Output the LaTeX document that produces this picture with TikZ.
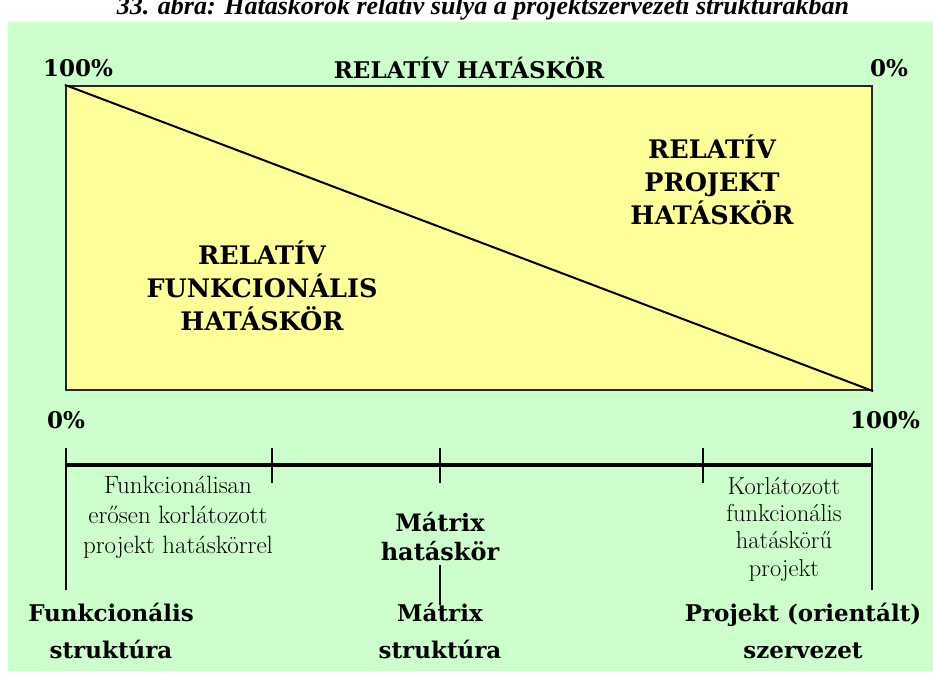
\documentclass[tikz,border=0pt]{standalone}
\usepackage{fontspec}
\usepackage{xcolor}
\usepackage{tikz}
\usetikzlibrary{positioning}

\newfontfamily\hdfont{DejaVu Serif}
\newfontfamily\ttlfont{Liberation Serif}
\definecolor{bggreen}{HTML}{CCFFCC}
\definecolor{boxyellow}{HTML}{FFFF99}

\begin{document}
\begin{tikzpicture}[x=1pt, y=-1pt,
  hd/.style={font=\hdfont\bfseries\fontsize{23}{37}\selectfont, align=center, inner sep=0pt},
  inlab/.style={font=\hdfont\bfseries\fontsize{25.5}{33}\selectfont, align=center, inner sep=0pt},
  note/.style={font=\fontsize{25}{30}\selectfont, align=center, inner sep=0pt},
  tickline/.style={line width=2pt},
  axisline/.style={line width=3.2pt}
]
  \useasboundingbox (0,0) rectangle (933,675);
  \clip (0,0) rectangle (933,675);
  \fill[bggreen] (8,22) rectangle (933,671);

  % title, cut at the top edge
  \node[font=\ttlfont\bfseries\itshape\fontsize{26}{30}\selectfont, anchor=base, inner sep=0pt] (title) at (483,14) {33. ábra: Hatáskörök relatív súlya a projektszervezeti struktúrákban};

  % upper part
  \node[hd] (pctA) at (78,68) {100\%};
  \node[hd] (rel) at (469,68) {RELATÍV HATÁSKÖR};
  \node[hd] (pctB) at (889,68) {0\%};

  \node[draw=black!85, line width=2.2pt, fill=boxyellow, minimum width=806pt, minimum height=304pt, inner sep=0pt] (box) at (469,238) {};
  \draw[line width=2pt] (box.north west) -- (box.south east);

  \node[inlab] (proj) at (712,180) {RELATÍV\\PROJEKT\\HATÁSKÖR};
  \node[inlab] (func) at (262,286) {RELATÍV\\FUNKCIONÁLIS\\HATÁSKÖR};

  \node[hd] (pctC) at (66,420) {0\%};
  \node[hd] (pctD) at (885,420) {100\%};

  % scale
  \coordinate (s0) at (66,465);
  \coordinate (s1) at (272,465);
  \coordinate (s2) at (440,465);
  \coordinate (s3) at (703,465);
  \coordinate (s4) at (872,465);
  \draw[axisline] (s0) -- (s4);
  \foreach \p in {s1,s2,s3} {
    \draw[tickline] ([yshift=17pt]\p) -- ([yshift=-18pt]\p);
  }
  \draw[tickline] ([yshift=17pt]s0) -- ([yshift=-125pt]s0);
  \draw[tickline] ([yshift=17pt]s4) -- ([yshift=-125pt]s4);

  \node[note] (nA) at (178,517) {Funkcionálisan\\erősen korlátozott\\projekt hatáskörrel};
  \node[hd, font=\hdfont\bfseries\fontsize{24}{29}\selectfont] (mid) at (440,537) {Mátrix\\hatáskör};
  \node[note, font=\fontsize{24.5}{27.3}\selectfont] (nB) at (784,529) {Korlátozott\\funkcionális\\hatáskörű\\projekt};
  \draw[tickline] ([yshift=-4pt]mid.south) -- ([yshift=-44pt]mid.south);

  % structures
  \node[hd] (stA) at (111,631) {Funkcionális\\struktúra};
  \node[hd] (stB) at (440,631) {Mátrix\\struktúra};
  \node[hd] (stC) at (803,631) {Projekt (orientált)\\szervezet};
\end{tikzpicture}
\end{document}
